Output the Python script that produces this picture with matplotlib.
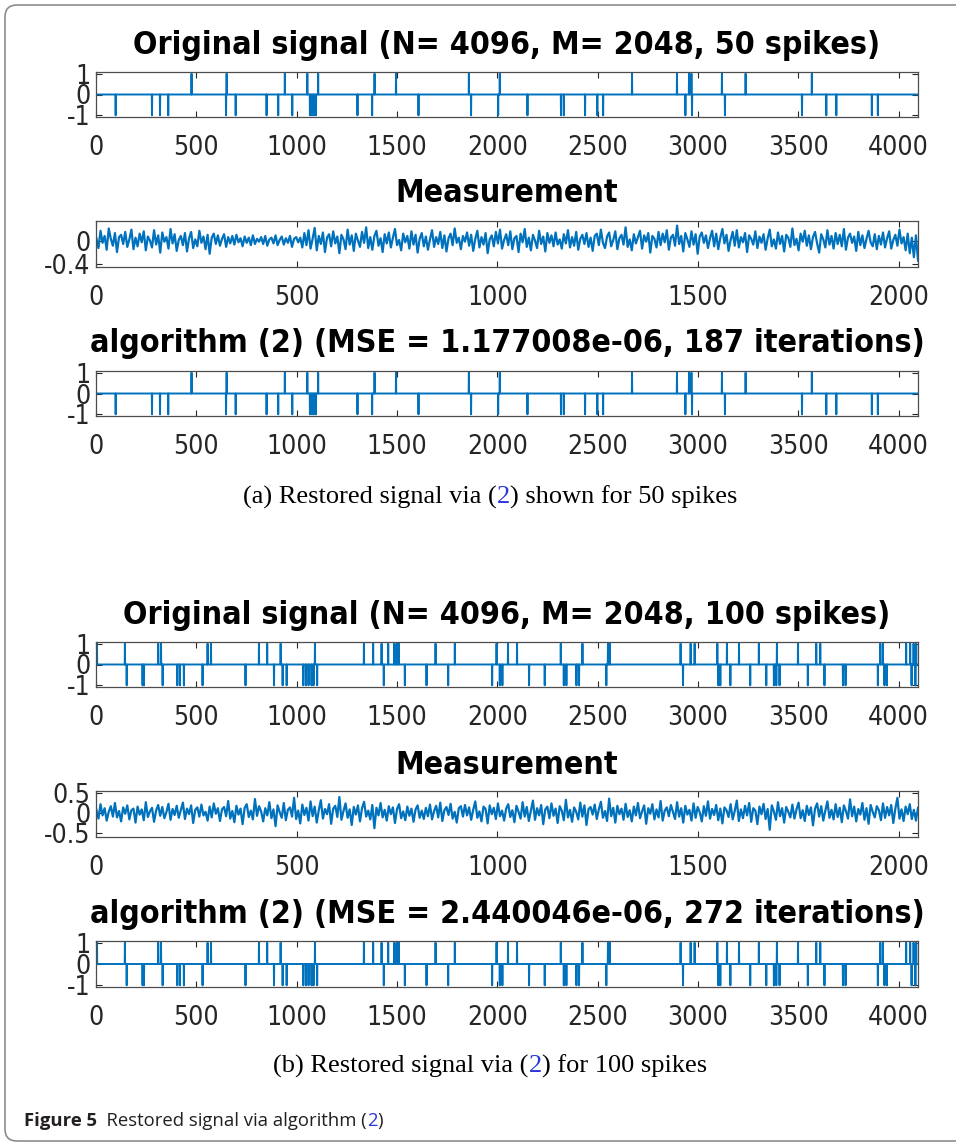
#plot.py

import numpy as np
import matplotlib.pyplot as plt
from matplotlib.patches import FancyBboxPatch
from matplotlib.transforms import IdentityTransform

plt.rcParams['font.family'] = ['DejaVu Sans']
plt.rcParams['font.stretch'] = 'condensed'
plt.rcParams['axes.unicode_minus'] = False

N = 4096
M = 2048

# spike positions (sample index), +1 and -1
up50 = [476, 651, 941, 1053, 1107, 1388, 1495, 1858, 2012, 2671, 2895, 2955,
        2967, 3119, 3237, 3567]
down50 = [98, 279, 319, 360, 648, 696, 850, 908, 978, 1066, 1076, 1086, 1096,
          1303, 1376, 1607, 1869, 2004, 2150, 2317, 2331, 2437, 2498, 2527,
          2937, 2970, 3134, 3518, 3639, 3689, 3866, 3896]

up100 = [5, 144, 310, 324, 556, 573, 812, 853, 920, 1091, 1335, 1381, 1423,
         1456, 1486, 1498, 1509, 1692, 1788, 1996, 2053, 2098, 2316, 2424,
         2551, 2560, 2913, 2963, 2983, 3096, 3144, 3204, 3303, 3393, 3498,
         3589, 3609, 3908, 3921, 4037, 4057, 4074, 4087]
down100 = [153, 232, 239, 332, 405, 418, 438, 531, 745, 887, 930, 950, 1033,
           1046, 1059, 1074, 1084, 1102, 1434, 1539, 1647, 1755, 1974, 2012,
           2025, 2158, 2236, 2331, 2344, 2394, 2407, 2543, 2925, 3101, 3111,
           3161, 3260, 3340, 3378, 3390, 3406, 3547, 3630, 3722, 3735, 3896,
           3929, 3941, 4064, 4083]

# measurement traces, estimated by eye (hundredths)
meas50 = [
    5, -12, 18, -3, 9, -15, 22, 4, -8, 14, -19, 7, 11, -5, 16, -10, 3, 20, -14, 6,
    -9, 13, -2, 17, -16, 8, 1, -11, 19, -6, 10, -20, 15, -1, 7, -13, 21, -4, 12, -17,
    2, 9, -7, 14, -18, 5, 16, -12, 3, -9, 18, -3, 8, -14, 11, -22, 6, 13, -5, 10,
    -8, 4, 12, -10, 7, -4, 9, -6, 11, -2, 5, -9, 8, -3, 6, -7, 10, -5, 4, -1,
    7, -5, 9, -8, 3, 6, -4, 10, -7, 2, 8, -6, 5, -3, 9, -10, 4, 7, -2, 6,
    -11, 14, -7, 19, -13, 4, 23, -16, 9, -5, 15, -19, 6, 12, -9, 17, -4, 8, -21, 11,
    3, -14, 20, -6, 10, -17, 13, 1, -10, 16, -3, 24, -12, 7, -15, 9, 18, -8, 5, -19,
    12, -4, 15, -11, 6, 21, -7, 2, -16, 13, -2, 9, -13, 17, -6, 11, -20, 4, 14, -9,
    8, -15, 3, 19, -10, 7, -5, 16, -12, 10, -18, 5, 13, -7, 22, -3, 6, -14, 9, -1,
    15, -8, 11, -17, 4, 18, -11, 7, -6, 14, -21, 3, 10, -9, 16, -4, 20, -13, 2, 12,
    -7, 17, -14, 5, 9, -19, 13, -2, 21, -10, 6, -16, 11, 1, -12, 18, -5, 8, -18, 14,
    -3, 10, -9, 15, -6, 3, -13, 12, -4, 19, -11, 7, -8, 16, -15, 4, 11, -5, 14, -10,
    6, -17, 9, 13, -7, 20, -3, -12, 8, 15, -9, 2, 17, -14, 5, 11, -6, 24, -10, 3,
    -16, 12, -4, 7, 18, -13, 10, -1, 14, -20, 9, 4, -11, 16, -7, 13, -2, 19, -15, 6,
    11, -8, 27, -5, 9, -18, 14, 3, -10, 17, -6, 12, -22, 8, 15, -3, 10, -12, 5, 18,
    -9, 13, -14, 6, 21, -4, 11, -17, 2, 16, -8, 19, -11, 7, -2, 14, -19, 10, 4, -6,
    17, -12, 8, -3, 12, -15, 5, 20, -9, 3, -13, 15, -5, 9, -18, 11, 6, -10, 22, -7,
    4, -16, 13, -1, 18, -8, 10, -14, 7, 16, -4, -20, 12, 3, -11, 19, -6, 9, -13, 14,
    -5, 11, -9, 21, -15, 6, 13, -3, 8, -17, 16, -7, 10, -12, 4, 18, -2, -9, 12, -14,
    9, -6, 15, -11, 5, 17, -13, 2, 11, -8, 20, -4, 7, -16, 13, -21, 6, -28, 10, -34,
]
meas100 = [
    8, -14, 22, -6, 12, -19, 3, 17, -9, 25, -11, 5, -21, 14, -2, 19, -16, 7, 11, -24,
    16, -4, 9, -18, 27, -10, 4, 13, -22, 6, 20, -7, 15, -13, 2, 23, -17, 10, -5, 18,
    -12, 7, 26, -15, 11, -3, 19, -25, 8, 14, -9, 21, -6, 3, -19, 16, -11, 24, -2, 12,
    -20, 9, 15, -8, 30, -14, 5, -23, 18, -4, 11, -28, 13, 22, -10, 6, -16, 35, -7, 17,
    4, -21, 12, -6, 27, -13, 9, -33, 19, 2, -12, 25, -18, 8, 14, -9, 38, -15, 6, -26,
    21, -5, 13, -19, 29, -8, 16, -24, 7, 32, -14, 10, -3, 22, -27, 11, 18, -10, 40, -17,
    5, 24, -12, 9, -30, 15, -4, 19, -21, 12, 28, -9, 6, -16, 20, -38, 13, -6, 25, -11,
    8, -19, 17, -3, 14, -25, 10, 22, -13, 4, -18, 16, -7, 11, -22, 9, 19, -12, 6, -15,
    13, -8, 21, -16, 5, 18, -11, 26, -20, 7, 15, -5, 23, -14, 3, -24, 12, 17, -9, 20,
    -6, 14, -17, 8, 29, -12, 4, -21, 16, 10, -26, 19, -3, 13, -15, 24, -8, 6, -19, 11,
    22, -10, 7, -23, 18, 3, -14, 27, -9, 15, -20, 5, 31, -17, 12, -6, 20, -28, 9, 16,
    -13, 24, -7, 11, -25, 17, 6, -18, 33, -11, 8, -22, 14, 3, -16, 26, -9, 19, -30, 10,
    15, -4, 21, -15, 9, 28, -12, 5, -20, 36, -8, 13, -24, 18, -3, 11, -17, 23, -10, 7,
    -21, 16, -6, 25, -13, 4, 19, -27, 12, -2, 22, -16, 9, -11, 30, -19, 6, 14, -8, 20,
    3, -15, 27, -9, 12, -24, 18, -4, 8, -19, 24, -12, 15, 2, -21, 17, -7, 29, -14, 10,
    -5, 20, -18, 11, -26, 14, 7, -10, 22, -16, 5, 31, -20, 9, -13, 18, -6, 25, -22, 12,
    6, -28, 16, -3, 23, -15, 10, -42, 19, 4, -17, 27, -8, 12, -24, 15, 3, -11, 21, -14,
    9, 26, -13, 7, -20, 18, -5, 14, -31, 11, 24, -9, 17, -19, 6, 29, -12, 8, -16, 22,
    -10, 13, -23, 19, 5, -14, 34, -8, 16, -21, 10, -4, 25, -17, 12, -27, 20, 3, -11, 17,
    7, -18, 24, -12, 15, -6, 20, -25, 11, 38, -14, 9, -20, 16, -3, 22, -15, 8, -19, 13,
]

titles_a = ['Original signal (N= 4096, M= 2048, 50 spikes)', 'Measurement',
            'algorithm (2) (MSE = 1.177008e-06, 187 iterations)']
titles_b = ['Original signal (N= 4096, M= 2048, 100 spikes)', 'Measurement',
            'algorithm (2) (MSE = 2.440046e-06, 272 iterations)']

W, H = 956, 1144
blue = '#0072BD'
ink = '#262626'

fig = plt.figure(figsize=(W / 100, H / 100), dpi=100)


def spikes(up, down):
    s = np.zeros(N)
    s[np.array(up) - 1] = 1
    s[np.array(down) - 1] = -1
    return s


def panel(top, bottom, title, title_base):
    ax = fig.add_axes([96 / W, 1 - bottom / H, 822 / W, (bottom - top) / H])
    ax.tick_params(direction='in', top=True, right=True, length=4, width=0.8,
                   colors=ink, labelsize=19)
    ax.tick_params(axis='x', pad=13)
    ax.tick_params(axis='y', pad=4)
    for sp in ax.spines.values():
        sp.set_color('#4d4d4d')
        sp.set_linewidth(0.9)
    fig.text(507 / W, 1 - title_base / H, title, ha='center', va='baseline',
             fontsize=23, fontweight='bold', color='black')
    return ax


def signal_panel(top, bottom, title, title_base, up, down):
    ax = panel(top, bottom, title, title_base)
    ax.plot(np.arange(1, N + 1), spikes(up, down), color=blue, lw=1.4)
    ax.set_xlim(0, N)
    ax.set_ylim(-1.08, 1.08)
    ax.set_yticks([-1, 0, 1])
    ax.set_xticks(np.arange(0, 4001, 500))
    return ax


def meas_panel(top, bottom, title, title_base, vals, ylim, yticks, ylabels):
    ax = panel(top, bottom, title, title_base)
    v = np.array(vals) / 100
    ax.plot(np.linspace(1, M, len(v)), v, color=blue, lw=1.6)
    ax.set_xlim(0, M)
    ax.set_ylim(*ylim)
    ax.set_yticks(yticks)
    ax.set_yticklabels(ylabels)
    ax.set_xticks(np.arange(0, 2001, 500))
    return ax


def rich_line(y_px, parts, x_px, center=True, size=16.5, family=None):
    renderer = fig.canvas.get_renderer()
    items = []
    for s, color, weight in parts:
        t = fig.text(0, 1 - y_px / H, s, color=color, fontweight=weight,
                     fontsize=size, va='center', family=family, fontstretch='normal')
        items.append((t, t.get_window_extent(renderer).width))
    total = sum(w for _, w in items)
    x = x_px - total / 2 if center else x_px
    for t, w in items:
        t.set_x(x / W)
        x += w


# (a) 50 spikes
signal_panel(72, 117, titles_a[0], 54, up50, down50)
meas_panel(221, 267, titles_a[1], 202, meas50, (-0.45, 0.35), [-0.4, 0], ['-0.4', '0'])
signal_panel(371, 416, titles_a[2], 352, up50, down50)

# (b) 100 spikes
signal_panel(642, 687, titles_b[0], 624, up100, down100)
meas_panel(791, 837, titles_b[1], 774, meas100, (-0.6, 0.55), [-0.5, 0, 0.5],
           ['-0.5', '0', '0.5'])
signal_panel(941, 987, titles_b[2], 923, up100, down100)

link = '#2b35d9'
serif = ['Liberation Serif', 'DejaVu Serif']
rich_line(497, [('(a) Restored signal via (', 'black', 'normal'), ('2', link, 'normal'),
                (') shown for 50 spikes', 'black', 'normal')], 490, size=19, family=serif)
rich_line(1066, [('(b) Restored signal via (', 'black', 'normal'), ('2', link, 'normal'),
                 (') for 100 spikes', 'black', 'normal')], 490, size=19, family=serif)
sans = ['Open Sans', 'DejaVu Sans']
rich_line(1121, [('Figure 5', '#231f20', 'bold'), ('  Restored signal via algorithm (', '#231f20', 'normal'),
                 ('2', link, 'normal'), (')', '#231f20', 'normal')], 24, center=False,
          size=13.3, family=sans)

# rounded frame around the figure
frame = FancyBboxPatch((5, 3), 1100, H - 8, boxstyle='round,pad=0,rounding_size=12',
                       transform=IdentityTransform(), fill=False, edgecolor='#8c8c8c',
                       linewidth=1.2)
fig.patches.append(frame)

fig.savefig('out.png', dpi=100)
